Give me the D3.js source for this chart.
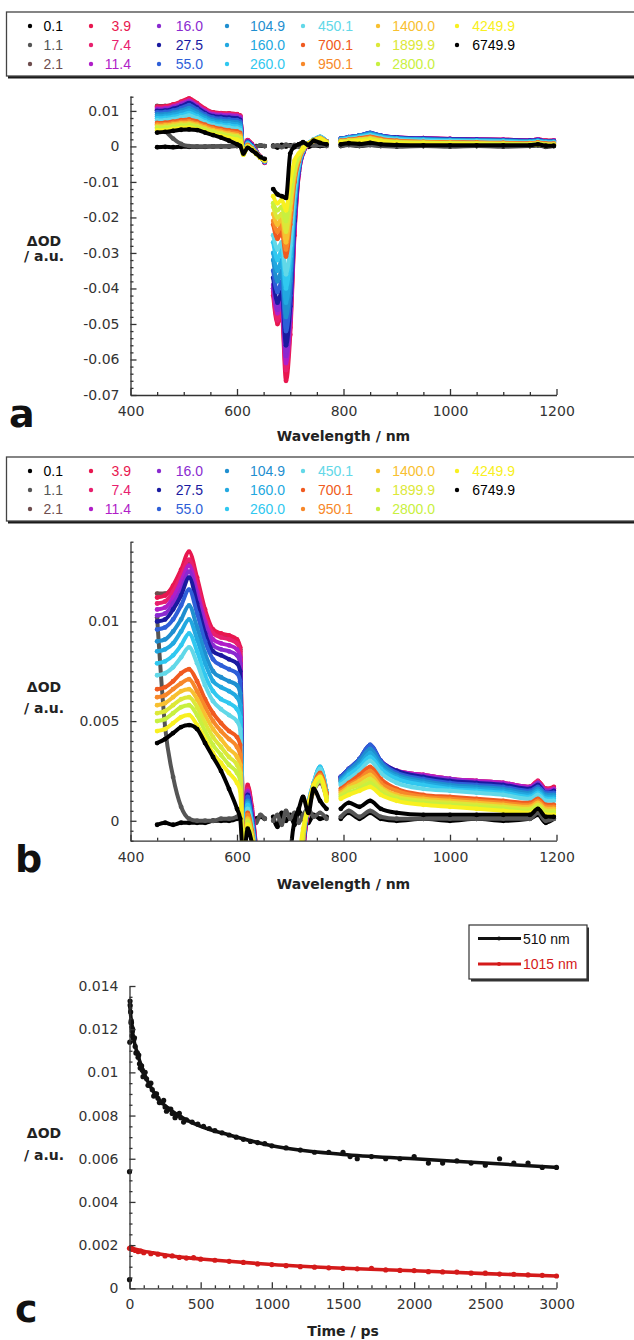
<!DOCTYPE html>
<html>
<head>
<meta charset="utf-8">
<title>Transient absorption spectra</title>
<script src="https://cdnjs.cloudflare.com/ajax/libs/d3/7.8.5/d3.min.js"></script>
<style>
  body { margin: 0; background: #fff; }
  svg { display: block; }
  .tick text { font-family: "DejaVu Sans", sans-serif; font-size: 14px; fill: #333; }
  .domain, .tick line { stroke: #333; stroke-width: 1.3px; }
  .ttl { font-family: "DejaVu Sans", sans-serif; font-weight: bold; font-size: 14px; fill: #222; }
  .leg { font-family: "Liberation Sans", Arial, sans-serif; font-size: 14px; }
  .panel { font-family: "DejaVu Sans", sans-serif; font-weight: bold; font-size: 38px; fill: #111; }
</style>
</head>
<body>
<svg id="chart" width="634" height="1340"></svg>
<script>

// delay times (ps) and their colours
var delays = ["0.1", "1.1", "2.1", "3.9", "7.4", "11.4", "16.0", "27.5", "55.0", "104.9",
              "160.0", "260.0", "450.1", "700.1", "950.1", "1400.0", "1899.9", "2800.0", "4249.9", "6749.9"];
var colors = ["#000000", "#555555", "#6e4d4d", "#e8174f", "#e8206e", "#b01ec8", "#8a2ad0", "#1a1aa0", "#2e5fd8", "#1f8fd0",
              "#22a8e0", "#30c8f0", "#62d8e8", "#f05a20", "#f7882a", "#f8c030", "#dce838", "#c8f040", "#f8f020", "#000000"];

// wavelength grids (nm), one per measured segment
var wlVis = [450, 465, 480, 495, 510, 525, 540, 555, 570, 585, 600, 606];
var wlEdge = [612, 620, 628, 636, 644, 652];
var wlBleach = [668, 676, 684, 692, 700, 708, 716, 724, 734, 744, 756, 768];
var wlNir = [795, 810, 830, 850, 870, 900, 950, 1000, 1050, 1100, 1150, 1165, 1180, 1195];

// dOD per delay (rows follow delays)
var odVis = [
  [-0.0002, -0.0001, -0.0002, -0.0001, -0.0001, -0.0001, -0.0001, 0.0000, 0.0000, 0.0000, 0.0001, 0.0002],
  [0.0102, 0.0047, 0.0022, 0.0007, 0.0001, 0.0000, 0.0000, 0.0000, 0.0001, 0.0001, 0.0002, 0.0003],
  [0.0114, 0.0114, 0.0117, 0.0124, 0.0130, 0.0118, 0.0104, 0.0095, 0.0093, 0.0092, 0.0090, 0.0086],
  [0.0112, 0.0113, 0.0118, 0.0126, 0.0135, 0.0122, 0.0106, 0.0096, 0.0094, 0.0093, 0.0091, 0.0087],
  [0.0109, 0.0110, 0.0115, 0.0123, 0.0131, 0.0119, 0.0103, 0.0094, 0.0092, 0.0091, 0.0089, 0.0085],
  [0.0106, 0.0107, 0.0112, 0.0120, 0.0128, 0.0115, 0.0100, 0.0091, 0.0089, 0.0088, 0.0086, 0.0082],
  [0.0103, 0.0104, 0.0109, 0.0116, 0.0125, 0.0112, 0.0097, 0.0088, 0.0086, 0.0085, 0.0083, 0.0079],
  [0.0100, 0.0101, 0.0106, 0.0113, 0.0122, 0.0109, 0.0094, 0.0085, 0.0083, 0.0081, 0.0079, 0.0075],
  [0.0096, 0.0097, 0.0101, 0.0108, 0.0116, 0.0104, 0.0090, 0.0081, 0.0078, 0.0076, 0.0074, 0.0070],
  [0.0090, 0.0091, 0.0095, 0.0101, 0.0108, 0.0097, 0.0084, 0.0075, 0.0072, 0.0070, 0.0068, 0.0064],
  [0.0085, 0.0086, 0.0089, 0.0095, 0.0101, 0.0091, 0.0079, 0.0070, 0.0067, 0.0065, 0.0062, 0.0058],
  [0.0079, 0.0080, 0.0083, 0.0088, 0.0094, 0.0085, 0.0073, 0.0065, 0.0061, 0.0059, 0.0056, 0.0052],
  [0.0073, 0.0074, 0.0077, 0.0082, 0.0087, 0.0079, 0.0068, 0.0060, 0.0056, 0.0053, 0.0050, 0.0046],
  [0.0066, 0.0067, 0.0070, 0.0074, 0.0076, 0.0070, 0.0061, 0.0054, 0.0049, 0.0045, 0.0042, 0.0038],
  [0.0062, 0.0063, 0.0066, 0.0069, 0.0071, 0.0065, 0.0057, 0.0050, 0.0045, 0.0041, 0.0037, 0.0033],
  [0.0058, 0.0059, 0.0062, 0.0065, 0.0066, 0.0061, 0.0053, 0.0046, 0.0041, 0.0036, 0.0032, 0.0028],
  [0.0054, 0.0055, 0.0058, 0.0061, 0.0062, 0.0057, 0.0049, 0.0042, 0.0037, 0.0032, 0.0028, 0.0024],
  [0.0050, 0.0051, 0.0054, 0.0057, 0.0058, 0.0053, 0.0045, 0.0038, 0.0033, 0.0028, 0.0024, 0.0020],
  [0.0045, 0.0046, 0.0049, 0.0052, 0.0053, 0.0048, 0.0041, 0.0034, 0.0029, 0.0024, 0.0019, 0.0015],
  [0.0039, 0.0041, 0.0044, 0.0047, 0.0048, 0.0046, 0.0039, 0.0032, 0.0025, 0.0016, 0.0006, 0.0001]
];
var odEdge = [
  [0.0001, 0.0002, 0.0000, 0.0001, 0.0002, 0.0001],
  [0.0003, 0.0004, 0.0002, -0.0001, 0.0003, 0.0001],
  [-0.0016, 0.0017, 0.0006, -0.0014, -0.0030, -0.0046],
  [-0.0015, 0.0018, 0.0007, -0.0013, -0.0029, -0.0045],
  [-0.0016, 0.0016, 0.0005, -0.0014, -0.0030, -0.0045],
  [-0.0017, 0.0015, 0.0004, -0.0015, -0.0030, -0.0044],
  [-0.0017, 0.0014, 0.0003, -0.0015, -0.0030, -0.0044],
  [-0.0018, 0.0013, 0.0002, -0.0016, -0.0031, -0.0043],
  [-0.0018, 0.0012, 0.0001, -0.0016, -0.0031, -0.0043],
  [-0.0019, 0.0010, 0.0000, -0.0017, -0.0031, -0.0042],
  [-0.0019, 0.0009, -0.0001, -0.0017, -0.0031, -0.0042],
  [-0.0020, 0.0008, -0.0002, -0.0018, -0.0031, -0.0041],
  [-0.0020, 0.0006, -0.0003, -0.0018, -0.0031, -0.0041],
  [-0.0021, 0.0004, -0.0005, -0.0019, -0.0032, -0.0040],
  [-0.0021, 0.0003, -0.0006, -0.0019, -0.0032, -0.0040],
  [-0.0022, 0.0001, -0.0007, -0.0020, -0.0032, -0.0039],
  [-0.0022, 0.0000, -0.0008, -0.0020, -0.0032, -0.0039],
  [-0.0023, -0.0001, -0.0009, -0.0021, -0.0032, -0.0038],
  [-0.0023, -0.0002, -0.0010, -0.0021, -0.0032, -0.0038],
  [-0.0020, -0.0004, -0.0011, -0.0020, -0.0030, -0.0035]
];
var odBleach = [
  [0.0002, -0.0003, 0.0004, 0.0000, 0.0003, -0.0002, 0.0005, 0.0001, -0.0001, 0.0003, 0.0001, 0.0002],
  [0.0000, 0.0003, -0.0002, 0.0005, 0.0001, 0.0004, -0.0001, 0.0003, 0.0006, 0.0002, 0.0004, 0.0001],
  [-0.040, -0.048, -0.045, -0.060, -0.048, -0.022, -0.0070, -0.0018, 0.0006, 0.0015, 0.0019, 0.0012],
  [-0.042, -0.050, -0.047, -0.066, -0.053, -0.025, -0.0080, -0.0020, 0.0005, 0.0015, 0.0020, 0.0012],
  [-0.041, -0.049, -0.046, -0.063, -0.051, -0.024, -0.0078, -0.0019, 0.0006, 0.0016, 0.0021, 0.0013],
  [-0.040, -0.047, -0.044, -0.061, -0.049, -0.023, -0.0075, -0.0018, 0.0006, 0.0016, 0.0022, 0.0013],
  [-0.039, -0.046, -0.043, -0.059, -0.047, -0.022, -0.0072, -0.0017, 0.0007, 0.0017, 0.0023, 0.0014],
  [-0.037, -0.044, -0.041, -0.056, -0.045, -0.021, -0.0068, -0.0016, 0.0007, 0.0017, 0.0024, 0.0014],
  [-0.035, -0.041, -0.038, -0.052, -0.042, -0.019, -0.0064, -0.0015, 0.0008, 0.0018, 0.0025, 0.0014],
  [-0.032, -0.038, -0.035, -0.048, -0.038, -0.017, -0.0060, -0.0014, 0.0008, 0.0018, 0.0026, 0.0015],
  [-0.030, -0.035, -0.032, -0.044, -0.035, -0.016, -0.0056, -0.0013, 0.0008, 0.0019, 0.0027, 0.0015],
  [-0.027, -0.032, -0.029, -0.040, -0.031, -0.014, -0.0052, -0.0012, 0.0009, 0.0019, 0.0027, 0.0015],
  [-0.025, -0.029, -0.027, -0.036, -0.028, -0.013, -0.0048, -0.0011, 0.0009, 0.0019, 0.0026, 0.0015],
  [-0.022, -0.026, -0.024, -0.031, -0.022, -0.010, -0.0042, -0.0010, 0.0008, 0.0018, 0.0024, 0.0014],
  [-0.021, -0.024, -0.022, -0.029, -0.020, -0.009, -0.0038, -0.0009, 0.0008, 0.0017, 0.0023, 0.0013],
  [-0.019, -0.022, -0.020, -0.027, -0.018, -0.008, -0.0034, -0.0008, 0.0007, 0.0016, 0.0022, 0.0012],
  [-0.017, -0.020, -0.019, -0.024, -0.016, -0.007, -0.0030, -0.0007, 0.0007, 0.0016, 0.0021, 0.0012],
  [-0.016, -0.018, -0.017, -0.021, -0.013, -0.006, -0.0026, -0.0006, 0.0006, 0.0015, 0.0020, 0.0011],
  [-0.014, -0.016, -0.015, -0.018, -0.010, -0.004, -0.0020, -0.0004, 0.0008, 0.0018, 0.0022, 0.0010],
  [-0.012, -0.0135, -0.014, -0.0145, -0.002, 0.0000, 0.0006, 0.0012, 0.0004, 0.0016, 0.0010, 0.0006]
];
var odNir = [
  [0.0001, 0.0004, 0.0001, 0.0004, 0.0001, 0.0000, 0.0001, 0.0000, 0.0001, 0.0000, 0.0001, 0.0003, -0.0001, 0.0001],
  [0.0002, 0.0005, 0.0002, 0.0005, 0.0002, 0.0001, 0.0001, 0.0001, 0.0001, 0.0001, 0.0001, 0.0004, 0.0000, 0.0001],
  [0.0020, 0.0024, 0.0028, 0.0034, 0.0028, 0.0024, 0.0022, 0.0020, 0.0019, 0.0018, 0.0017, 0.0019, 0.0016, 0.0016],
  [0.0021, 0.0025, 0.0029, 0.0035, 0.0029, 0.0025, 0.0023, 0.0021, 0.0020, 0.0019, 0.0017, 0.0020, 0.0016, 0.0017],
  [0.0021, 0.0025, 0.0029, 0.0036, 0.0029, 0.0025, 0.0023, 0.0021, 0.0020, 0.0019, 0.0017, 0.0020, 0.0016, 0.0016],
  [0.0022, 0.0026, 0.0030, 0.0037, 0.0030, 0.0025, 0.0023, 0.0021, 0.0020, 0.0019, 0.0017, 0.0019, 0.0015, 0.0016],
  [0.0022, 0.0026, 0.0030, 0.0037, 0.0030, 0.0025, 0.0022, 0.0021, 0.0019, 0.0018, 0.0016, 0.0019, 0.0015, 0.0015],
  [0.0022, 0.0026, 0.0031, 0.0038, 0.0030, 0.0025, 0.0022, 0.0020, 0.0019, 0.0018, 0.0016, 0.0018, 0.0014, 0.0015],
  [0.0022, 0.0026, 0.0031, 0.0038, 0.0030, 0.0024, 0.0021, 0.0019, 0.0018, 0.0017, 0.0015, 0.0017, 0.0014, 0.0014],
  [0.0021, 0.0025, 0.0030, 0.0036, 0.0029, 0.0023, 0.0020, 0.0018, 0.0017, 0.0016, 0.0014, 0.0016, 0.0013, 0.0013],
  [0.0020, 0.0024, 0.0028, 0.0034, 0.0027, 0.0022, 0.0019, 0.0017, 0.0016, 0.0015, 0.0013, 0.0015, 0.0012, 0.0012],
  [0.0019, 0.0023, 0.0027, 0.0032, 0.0026, 0.0021, 0.0018, 0.0016, 0.0015, 0.0014, 0.0012, 0.0014, 0.0011, 0.0011],
  [0.0018, 0.0021, 0.0025, 0.0030, 0.0024, 0.0019, 0.0016, 0.0015, 0.0014, 0.0013, 0.0011, 0.0013, 0.0010, 0.0010],
  [0.0016, 0.0019, 0.0023, 0.0027, 0.0021, 0.0016, 0.0013, 0.0012, 0.0011, 0.0010, 0.0009, 0.0011, 0.0008, 0.0008],
  [0.0015, 0.0018, 0.0021, 0.0025, 0.0019, 0.0015, 0.0012, 0.0011, 0.0010, 0.0009, 0.0008, 0.0010, 0.0007, 0.0007],
  [0.0014, 0.0017, 0.0020, 0.0023, 0.0017, 0.0013, 0.0011, 0.0010, 0.0009, 0.0008, 0.0007, 0.0009, 0.0006, 0.0006],
  [0.0013, 0.0016, 0.0018, 0.0021, 0.0016, 0.0012, 0.0010, 0.0009, 0.0008, 0.0007, 0.0006, 0.0008, 0.0005, 0.0005],
  [0.0012, 0.0014, 0.0016, 0.0019, 0.0014, 0.0011, 0.0009, 0.0008, 0.0007, 0.0006, 0.0005, 0.0007, 0.0004, 0.0004],
  [0.0011, 0.0013, 0.0015, 0.0017, 0.0013, 0.0010, 0.0008, 0.0007, 0.0006, 0.0005, 0.0004, 0.0006, 0.0003, 0.0003],
  [0.0006, 0.0009, 0.0007, 0.0010, 0.0006, 0.0004, 0.0003, 0.0003, 0.0003, 0.0003, 0.0003, 0.0006, 0.0002, 0.0002]
];

// kinetics (panel c)
var t510 = [0, 0, 2, 4, 5, 8, 10, 12, 14, 16, 18, 20, 22, 25, 28, 30, 35, 40, 45, 50, 55, 60, 65, 70, 75, 80, 85, 90, 95,
            100, 110, 120, 130, 140, 150, 160, 170, 180, 190, 200, 210, 225, 240, 250, 260, 275, 290, 300, 320,
            330, 350, 360, 380, 400, 440, 480, 520, 560, 600, 650, 700, 750, 800, 850, 900, 950, 1000, 1100, 1200, 1300, 1400,
            1500, 1550, 1600, 1700, 1800, 1900, 2000, 2100, 2200, 2300, 2400, 2500, 2600, 2700, 2800, 2900, 3000];
var od510 = [0.0004, 0.0054, 0.0114, 0.0133, 0.0131, 0.0128, 0.0123, 0.0124, 0.0123, 0.0121, 0.0117, 0.0119, 0.0120, 0.0116,
             0.0115, 0.0115, 0.0116, 0.0112, 0.0109, 0.0109, 0.0109, 0.0107, 0.0108, 0.0104, 0.0102, 0.0103, 0.0103, 0.0101, 0.0098,
             0.0100, 0.0100, 0.0097, 0.0094, 0.0094, 0.0095, 0.0092, 0.0089, 0.0090, 0.0090, 0.0088, 0.0086, 0.0086, 0.0087, 0.0084,
             0.0082, 0.0083, 0.0083, 0.0081, 0.0079,
             0.0080, 0.0081, 0.0079, 0.0077, 0.0078, 0.0077, 0.0076, 0.0075, 0.0074, 0.0073, 0.0072, 0.0071, 0.0070, 0.0069, 0.0068,
             0.00675, 0.0067, 0.0066, 0.0065, 0.0064, 0.0063, 0.0063, 0.0063, 0.0061, 0.0060, 0.0061, 0.0060, 0.0060,
             0.0061, 0.0058, 0.0058, 0.0059, 0.0058, 0.0057, 0.0060, 0.0058, 0.0058, 0.0056, 0.0056];
var t1015 = [0, 10, 20, 40, 60, 80, 100, 150, 200, 250, 300, 350, 400, 450, 500, 600, 700, 800, 900, 1000, 1100, 1200,
             1300, 1400, 1500, 1600, 1700, 1800, 1900, 2000, 2100, 2200, 2300, 2400, 2500, 2600, 2700, 2800, 2900, 3000];
var od1015 = [0.00185, 0.0019, 0.0018, 0.00175, 0.0017, 0.00172, 0.00165, 0.0016, 0.00158, 0.0015, 0.0015, 0.00143, 0.0014,
              0.00142, 0.00135, 0.0013, 0.00125, 0.0012, 0.00113, 0.0011, 0.00105, 0.0010, 0.00098, 0.00095, 0.00092,
              0.0009, 0.00092, 0.00085, 0.00083, 0.00082, 0.00077, 0.00076, 0.00075, 0.0007, 0.0007, 0.00066, 0.00065,
              0.00062, 0.0006, 0.00057];
var tFit = [0, 25, 50, 100, 150, 200, 300, 400, 500, 700, 1000, 1500, 2000, 2500, 3000];
var fit510 = [0.0132, 0.0117, 0.0110, 0.0100, 0.0093, 0.0088, 0.0082, 0.0078, 0.0075, 0.0071, 0.0066, 0.0062, 0.0060, 0.0058, 0.0056];
var fit1015 = [0.00188, 0.00184, 0.00180, 0.00172, 0.00166, 0.00160, 0.00150, 0.00142, 0.00136, 0.00125, 0.00110, 0.00093, 0.00081, 0.00068, 0.00057];

var svg = d3.select("#chart");
var defs = svg.append("defs");

// one point list per delay, null marks a gap between segments
var spectra = delays.map(function (d, i) {
  var pts = [];
  [[wlVis, odVis], [wlEdge, odEdge], [wlBleach, odBleach], [wlNir, odNir]].forEach(function (seg, k) {
    if (k >= 2) pts.push(null);
    seg[0].forEach(function (w, j) { pts.push({ w: w, v: seg[1][i][j] }); });
  });
  return { name: d, color: colors[i], pts: pts };
});

var fmt = function (d) { return String(+d.toFixed(4)); };

function minorOf(lo, hi, step, majors) {
  var out = [];
  for (var k = Math.round(lo / step); k <= Math.round(hi / step); k++) {
    var v = +(k * step).toFixed(6);
    if (majors.every(function (m) { return Math.abs(m - v) > step / 10; })) out.push(v);
  }
  return out;
}

function drawAxes(x, y, xMajor, xStep, yMajor, yStep) {
  var y0 = y.range()[0];
  var x0 = x.range()[0];
  var g = svg.append("g");
  g.append("g").attr("transform", "translate(0," + y0 + ")")
    .call(d3.axisBottom(x).tickValues(minorOf(x.domain()[0], x.domain()[1], xStep, xMajor)).tickSize(-3).tickFormat(""))
    .select(".domain").remove();
  g.append("g").attr("transform", "translate(0," + y0 + ")")
    .call(d3.axisBottom(x).tickValues(xMajor).tickSize(-6).tickSizeOuter(0).tickPadding(11).tickFormat(fmt));
  g.append("g").attr("transform", "translate(" + x0 + ",0)")
    .call(d3.axisLeft(y).tickValues(minorOf(y.domain()[0], y.domain()[1], yStep, yMajor)).tickSize(-3).tickFormat(""))
    .select(".domain").remove();
  g.append("g").attr("transform", "translate(" + x0 + ",0)")
    .call(d3.axisLeft(y).tickValues(yMajor).tickSize(-6).tickSizeOuter(0).tickPadding(11).tickFormat(fmt));
}

function yTitle(cx, b1, b2) {
  svg.append("text").attr("class", "ttl").attr("x", cx).attr("y", b1).attr("text-anchor", "middle").text("\u0394OD");
  svg.append("text").attr("class", "ttl").attr("x", cx).attr("y", b2).attr("text-anchor", "middle").text("/ a.u.");
}

function delayLegend(top) {
  var cols = [[30, 63], [91, 131], [159, 203], [227, 285], [303, 353], [378, 435], [457, 515]];
  var rows = [top + 14, top + 33, top + 52];
  svg.append("rect").attr("x", 8).attr("y", top + 2.5).attr("width", 640).attr("height", 64).attr("fill", "#1a1a1a");
  svg.append("rect").attr("x", 6.5).attr("y", top).attr("width", 640).attr("height", 64)
    .attr("fill", "#fff").attr("stroke", "#444").attr("stroke-width", 1.3);
  var item = svg.append("g").selectAll("g").data(delays).join("g")
    .attr("transform", function (d, i) { return "translate(0," + rows[i % 3] + ")"; });
  item.append("circle")
    .attr("cx", function (d, i) { return cols[Math.floor(i / 3)][0]; })
    .attr("r", 2.2).attr("fill", function (d, i) { return colors[i]; });
  item.append("text").attr("class", "leg")
    .attr("x", function (d, i) { return cols[Math.floor(i / 3)][1]; })
    .attr("y", 5).attr("text-anchor", "end")
    .attr("fill", function (d, i) { return colors[i]; })
    .text(function (d) { return d; });
}

function spectrumPanel(id, y, yMajor, yStep, titleY, letter) {
  var x = d3.scaleLinear().domain([400, 1200]).range([130.5, 556.5]);
  defs.append("clipPath").attr("id", id).append("rect")
    .attr("x", x.range()[0]).attr("y", y.range()[1])
    .attr("width", x.range()[1] - x.range()[0]).attr("height", y.range()[0] - y.range()[1]);

  var line = d3.line().defined(function (p) { return p !== null; })
    .x(function (p) { return x(p.w); }).y(function (p) { return y(p.v); })
    .curve(d3.curveMonotoneX);

  var plot = svg.append("g").attr("clip-path", "url(#" + id + ")");
  var s = plot.selectAll("g").data(spectra).join("g");
  s.append("path").attr("d", function (d) { return line(d.pts); })
    .attr("fill", "none").attr("stroke", function (d) { return d.color; })
    .attr("stroke-width", 4).attr("stroke-linejoin", "round").attr("stroke-linecap", "round");
  s.selectAll("circle").data(function (d) { return d.pts.filter(function (p) { return p; }).map(function (p) { return { p: p, c: d.color }; }); })
    .join("circle").attr("cx", function (d) { return x(d.p.w); }).attr("cy", function (d) { return y(d.p.v); })
    .attr("r", 2.4).attr("fill", function (d) { return d.c; });

  drawAxes(x, y, [400, 600, 800, 1000, 1200], 50, yMajor, yStep);
  svg.append("text").attr("class", "ttl").attr("x", 343.5).attr("y", titleY[0]).attr("text-anchor", "middle").text("Wavelength / nm");
  yTitle(44, titleY[1], titleY[2]);
  svg.append("text").attr("class", "panel").attr("x", letter[0]).attr("y", letter[1]).text(letter[2]);
}

// panel a
delayLegend(12);
spectrumPanel("clipA", d3.scaleLinear().domain([-0.07, 0.0142]).range([395, 96]),
  [0.01, 0, -0.01, -0.02, -0.03, -0.04, -0.05, -0.06, -0.07], 0.002, [441, 246, 261], [9, 427, "a"]);

// panel b
delayLegend(457);
spectrumPanel("clipB", d3.scaleLinear().domain([-0.001, 0.014]).range([840.7, 541.7]),
  [0, 0.005, 0.01], 0.0005, [889, 692, 713], [15, 872, "b"]);

// panel c
var xc = d3.scaleLinear().domain([0, 3000]).range([129.5, 556.5]);
var yc = d3.scaleLinear().domain([0, 0.014]).range([1288.3, 986]);
var kin = [
  { t: t510, v: od510, ft: tFit, fv: fit510, c: "#111111", w: 3.6, name: "510 nm" },
  { t: t1015, v: od1015, ft: tFit, fv: fit1015, c: "#d41a1a", w: 3.6, name: "1015 nm" }
];
var kline = d3.line().x(function (d) { return xc(d[0]); }).y(function (d) { return yc(d[1]); }).curve(d3.curveMonotoneX);
kin.forEach(function (k) {
  var g = svg.append("g");
  g.append("path").attr("d", kline(k.ft.map(function (t, i) { return [t, k.fv[i]]; })))
    .attr("fill", "none").attr("stroke", k.c).attr("stroke-width", k.w);
  g.selectAll("circle").data(k.t.map(function (t, i) { return [t, k.v[i]]; })).join("circle")
    .attr("cx", function (d) { return xc(d[0]); }).attr("cy", function (d) { return yc(d[1]); })
    .attr("r", 2.6).attr("fill", k.c);
});
drawAxes(xc, yc, [0, 500, 1000, 1500, 2000, 2500, 3000], 100,
  [0, 0.002, 0.004, 0.006, 0.008, 0.01, 0.012, 0.014], 0.0005);
svg.append("text").attr("class", "ttl").attr("x", 343).attr("y", 1336).attr("text-anchor", "middle").text("Time / ps");
yTitle(44, 1138, 1160);
svg.append("text").attr("class", "panel").attr("x", 15).attr("y", 1322).text("c");

// legend of panel c
svg.append("rect").attr("x", 471).attr("y", 927.5).attr("width", 118).attr("height", 54).attr("fill", "#333");
svg.append("rect").attr("x", 469).attr("y", 925).attr("width", 118).attr("height", 54)
  .attr("fill", "#fff").attr("stroke", "#333").attr("stroke-width", 1.2);
var kl = svg.append("g").selectAll("g").data(kin).join("g")
  .attr("transform", function (d, i) { return "translate(0," + (938.5 + i * 25.5) + ")"; });
kl.append("line").attr("x1", 478).attr("x2", 521).attr("stroke", function (d) { return d.c; }).attr("stroke-width", 3);
kl.append("circle").attr("cx", 499).attr("r", 2).attr("fill", function (d) { return d.c; });
kl.append("text").attr("class", "leg").attr("x", 523).attr("y", 5)
  .attr("fill", function (d) { return d.c; }).text(function (d) { return d.name; });

</script>
</body>
</html>
